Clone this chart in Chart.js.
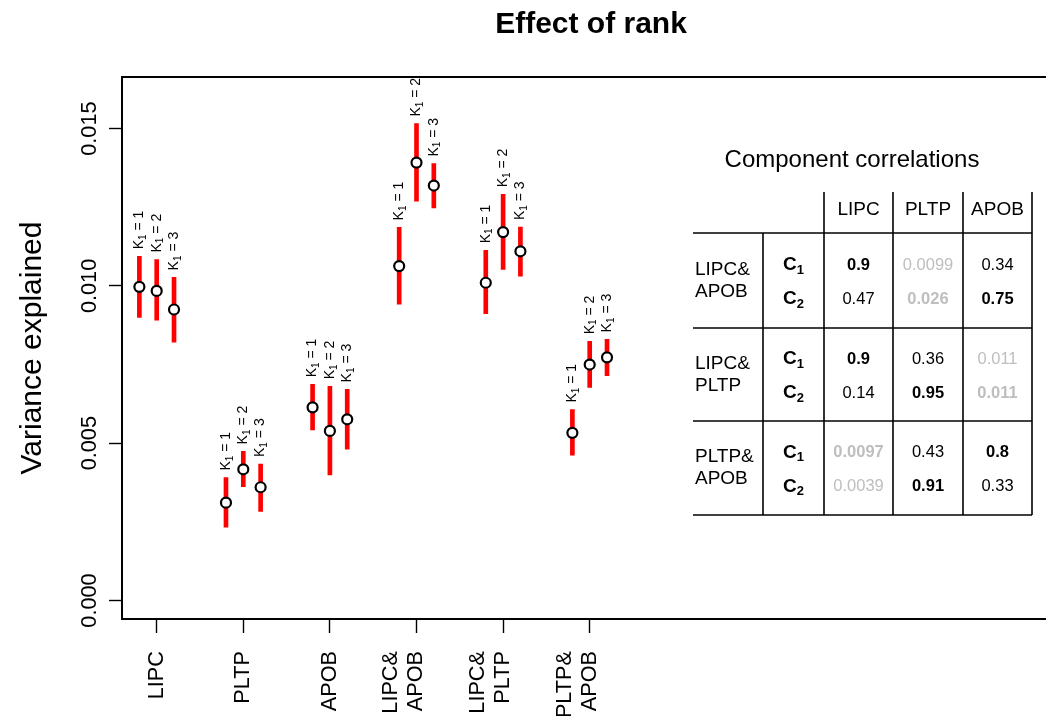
<!DOCTYPE html>
<html>
<head>
<meta charset="utf-8">
<title>Effect of rank</title>
<script src="https://cdn.jsdelivr.net/npm/chart.js@4.4.1/dist/chart.umd.min.js"></script>
<style>
  html, body { margin: 0; padding: 0; background: #fff; overflow: hidden; }
  canvas { display: block; }
</style>
</head>
<body>
<canvas id="rankChart" width="1046" height="716"></canvas>
<script>
  // === Data ===
  // x labels are two lines each; single names get an empty first line
  const groups = [['', 'LIPC'], ['', 'PLTP'], ['', 'APOB'], ['LIPC&', 'APOB'], ['LIPC&', 'PLTP'], ['PLTP&', 'APOB']];
  const ranks = [1, 2, 3];
  const rankOffsets = [-0.2, 0, 0.2];

  const estimate = [
    [0.00997, 0.00984, 0.00925],
    [0.00311, 0.00417, 0.00360],
    [0.00614, 0.00539, 0.00576],
    [0.01063, 0.01392, 0.01319],
    [0.01010, 0.01171, 0.01110],
    [0.00533, 0.00750, 0.00773]
  ];
  const lower = [
    [0.00900, 0.00891, 0.00821],
    [0.00233, 0.00362, 0.00283],
    [0.00542, 0.00399, 0.00481],
    [0.00942, 0.01269, 0.01248],
    [0.00912, 0.01052, 0.01031],
    [0.00462, 0.00677, 0.00715]
  ];
  const upper = [
    [0.01094, 0.01084, 0.01027],
    [0.00391, 0.00474, 0.00434],
    [0.00687, 0.00681, 0.00671],
    [0.01186, 0.01516, 0.01389],
    [0.01113, 0.01291, 0.01187],
    [0.00607, 0.00824, 0.00830]
  ];
  const yTicks = [0, 0.005, 0.010, 0.015];

  // component correlation table
  const corrCols = ['LIPC', 'PLTP', 'APOB'];
  const corrRows = [['LIPC&', 'APOB'], ['LIPC&', 'PLTP'], ['PLTP&', 'APOB']];
  const corrValues = [
    [['0.9', '0.0099', '0.34'], ['0.47', '0.026', '0.75']],
    [['0.9', '0.36', '0.011'], ['0.14', '0.95', '0.011']],
    [['0.0097', '0.43', '0.8'], ['0.0039', '0.91', '0.33']]
  ];
  // best match per component
  const corrBest = [
    [[1, 0, 0], [0, 1, 1]],
    [[1, 0, 0], [0, 1, 1]],
    [[1, 0, 1], [0, 1, 0]]
  ];
  // not significant
  const corrWeak = [
    [[0, 1, 0], [0, 1, 0]],
    [[0, 0, 1], [0, 0, 1]],
    [[1, 0, 0], [1, 0, 0]]
  ];

  const FONT = '"Liberation Sans", Arial, Helvetica, sans-serif';
  Chart.defaults.font.family = FONT;
  Chart.defaults.color = '#000';

  // px per group on the x axis, and x range start
  const X_UNIT = 86.6;
  const X_MIN = 1 - 34.7 / X_UNIT;

  const points = [];
  const bars = [];
  groups.forEach((g, gi) => {
    ranks.forEach((k, ki) => {
      const xv = gi + 1 + rankOffsets[ki];
      points.push({ x: xv, y: estimate[gi][ki] });
      bars.push({ x: xv, y: [lower[gi][ki], upper[gi][ki]] });
    });
  });

  function line(ctx, x1, y1, x2, y2) {
    ctx.beginPath();
    ctx.moveTo(x1, y1);
    ctx.lineTo(x2, y2);
    ctx.stroke();
  }

  // subscripted label like C1 / K1, left edge at x
  function subText(ctx, base, sub, x, y, size, subSize, bold, rest) {
    const w8 = bold ? 'bold ' : '';
    ctx.font = `${w8}${size}px ${FONT}`;
    ctx.fillText(base, x, y);
    let w = ctx.measureText(base).width;
    ctx.font = `${w8}${subSize}px ${FONT}`;
    ctx.fillText(sub, x + w, y + size * 0.28);
    w += ctx.measureText(sub).width;
    if (rest) {
      ctx.font = `${w8}${size}px ${FONT}`;
      ctx.fillText(rest, x + w, y);
      w += ctx.measureText(rest).width;
    }
    return w;
  }

  const decor = {
    id: 'decor',
    afterDraw(chart) {
      const { ctx, chartArea: a, scales: { x, y } } = chart;
      ctx.save();
      ctx.fillStyle = '#000';
      ctx.strokeStyle = '#000';

      // plot box runs off the right edge
      ctx.lineWidth = 2;
      line(ctx, a.left - 1, a.top, chart.width, a.top);
      line(ctx, a.right - 1, a.bottom, chart.width, a.bottom);

      // main title
      ctx.font = `bold 30px ${FONT}`;
      ctx.textAlign = 'center';
      ctx.textBaseline = 'middle';
      ctx.fillText('Effect of rank', 591, 25);

      // rank labels above each interval
      ctx.textAlign = 'left';
      groups.forEach((g, gi) => {
        ranks.forEach((k, ki) => {
          const px = x.getPixelForValue(gi + 1 + rankOffsets[ki]);
          const py = y.getPixelForValue(upper[gi][ki]) - 7;
          ctx.save();
          ctx.translate(px, py);
          ctx.rotate(-Math.PI / 2);
          subText(ctx, 'K', '1', 0, 0, 14, 10, false, ' = ' + k);
          ctx.restore();
        });
      });

      // correlation table
      const colX = [693, 763, 824, 893, 963, 1032];
      const rowY = [233, 328, 421, 515];
      const headTop = 192;
      ctx.lineWidth = 1.6;
      rowY.forEach(yy => line(ctx, colX[0], yy, colX[5], yy));
      colX.slice(1).forEach(xx => line(ctx, xx, rowY[0], xx, rowY[3]));
      colX.slice(2).forEach(xx => line(ctx, xx, headTop, xx, rowY[0]));

      ctx.textAlign = 'center';
      ctx.font = `24px ${FONT}`;
      ctx.fillText('Component correlations', 852, 160);

      ctx.font = `19px ${FONT}`;
      corrCols.forEach((c, ci) => {
        ctx.fillText(c, (colX[ci + 2] + colX[ci + 3]) / 2, 210);
      });

      corrRows.forEach((r, ri) => {
        const mid = (rowY[ri] + rowY[ri + 1]) / 2;
        ctx.textAlign = 'left';
        ctx.fillStyle = '#000';
        ctx.font = `19px ${FONT}`;
        ctx.fillText(r[0], 695, mid - 11);
        ctx.fillText(r[1], 695, mid + 11);
        [mid - 15.5, mid + 18.5].forEach((vy, comp) => {
          ctx.textAlign = 'left';
          ctx.fillStyle = '#000';
          subText(ctx, 'C', String(comp + 1), 783, vy, 19, 13, true);
          ctx.textAlign = 'center';
          corrValues[ri][comp].forEach((v, ci) => {
            const bold = corrBest[ri][comp][ci] ? 'bold ' : '';
            ctx.font = `${bold}16.5px ${FONT}`;
            ctx.fillStyle = corrWeak[ri][comp][ci] ? '#bebebe' : '#000';
            ctx.fillText(v, (colX[ci + 2] + colX[ci + 3]) / 2, vy);
          });
        });
      });
      ctx.restore();
    }
  };

  const ctx = document.getElementById('rankChart').getContext('2d');
  const chart = new Chart(ctx, {
    data: {
      datasets: [
        {
          type: 'scatter',
          data: points,
          order: 0,
          pointRadius: 5,
          pointHoverRadius: 5,
          pointBorderWidth: 2.2,
          pointBorderColor: '#000',
          pointBackgroundColor: '#fff'
        },
        {
          type: 'bar',
          data: bars,
          order: 1,
          grouped: false,
          barThickness: 4,
          borderWidth: 0,
          backgroundColor: '#ff0000'
        }
      ]
    },
    options: {
      responsive: false,
      animation: false,
      devicePixelRatio: 1,
      layout: { padding: { top: 77, left: 0, right: 0, bottom: 0 } },
      plugins: {
        legend: { display: false },
        tooltip: { enabled: false },
        title: { display: false }
      },
      scales: {
        x: {
          type: 'linear',
          offset: false,
          min: X_MIN,
          max: X_MIN + 924 / X_UNIT,
          afterBuildTicks: s => { s.ticks = groups.map((g, i) => ({ value: i + 1 })); },
          afterFit: s => { s.height = 97; },
          grid: { drawOnChartArea: false, offset: false, tickLength: 14, color: '#000', tickWidth: 1.4 },
          border: { color: '#000', width: 2 },
          ticks: {
            autoSkip: false,
            minRotation: 90,
            maxRotation: 90,
            padding: 18,
            labelOffset: -25,
            font: { size: 21.7, lineHeight: 1.15 },
            callback: (v, i) => groups[i]
          }
        },
        y: {
          type: 'linear',
          min: -0.000588,
          max: 0.01664,
          afterBuildTicks: s => { s.ticks = yTicks.map(v => ({ value: v })); },
          afterFit: s => { s.width = 122; },
          grid: { drawOnChartArea: false, tickLength: 13, color: '#000', tickWidth: 1.4 },
          border: { color: '#000', width: 2 },
          ticks: {
            minRotation: 90,
            maxRotation: 90,
            crossAlign: 'center',
            padding: -8,
            font: { size: 21.7 },
            callback: v => v.toFixed(3)
          },
          title: {
            display: true,
            text: 'Variance explained',
            font: { size: 30 },
            padding: { top: 15, bottom: 0 }
          }
        }
      }
    },
    plugins: [decor]
  });

  // keep a fixed px-per-group spacing whatever width the plot area ends up with
  const area = chart.chartArea;
  chart.options.scales.x.max = X_MIN + (area.right - area.left) / X_UNIT;
  chart.update();
</script>
</body>
</html>
